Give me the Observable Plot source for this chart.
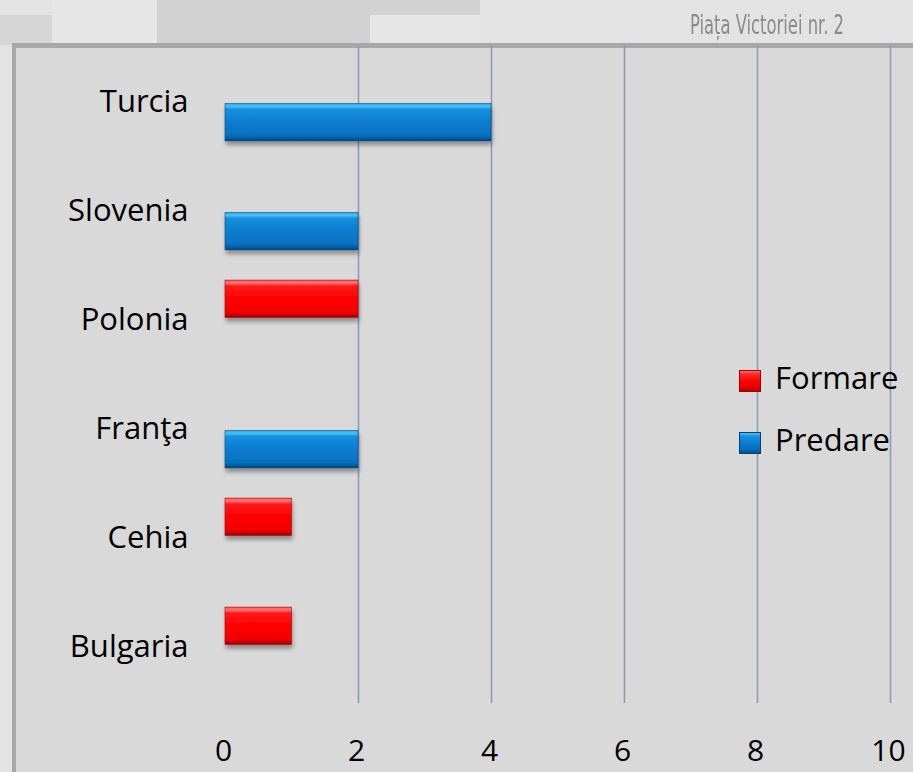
<!DOCTYPE html>
<html>
<head>
<meta charset="utf-8">
<script src="https://cdn.jsdelivr.net/npm/d3@7"></script>
<script src="https://cdn.jsdelivr.net/npm/@observablehq/plot@0.6"></script>
<style>
  html, body { margin: 0; padding: 0; background: #e3e3e3; overflow: hidden; }
  #wrap { position: relative; width: 913px; height: 772px; overflow: hidden; font-family: "Open Sans", sans-serif; }
  .blk { position: absolute; }
  #panel { position: absolute; left: 12px; top: 43px; width: 920px; height: 740px; background: #d9d9d9;
           border-top: 5px solid #a8a8a8; border-left: 4px solid #a8a8a8; box-sizing: border-box; }
  #chart { position: absolute; left: 0; top: 0; }
  #addr { position: absolute; left: 690px; top: 8px; font-family: "DejaVu Sans Condensed", "DejaVu Sans", sans-serif;
          font-size: 26px; line-height: 34px; color: #8a8a8a; white-space: nowrap; transform-origin: 0 0; }
  .lg-sw { position: absolute; width: 22px; height: 22px; box-sizing: border-box; }
  .lg-tx { position: absolute; font-size: 31px; line-height: 1; color: #000; }
</style>
</head>
<body>
<div id="wrap">
  <div class="blk" style="left:0;top:15px;width:52px;height:30px;background:#d6d6d6"></div>
  <div class="blk" style="left:52px;top:0;width:105px;height:45px;background:#e6e6e6"></div>
  <div class="blk" style="left:157px;top:0;width:213px;height:45px;background:#d2d2d2"></div>
  <div class="blk" style="left:370px;top:0;width:110px;height:15px;background:#d2d2d2"></div>
  <div class="blk" style="left:370px;top:15px;width:110px;height:30px;background:#e6e6e6"></div>
  <div id="panel"></div>
  <div id="addr">Piața Victoriei nr. 2</div>
  <div id="chart"></div>
  <div class="lg-sw" id="sw1" style="left:739px;top:370px"></div>
  <div class="lg-tx" style="left:775px;top:362px">Formare</div>
  <div class="lg-sw" id="sw2" style="left:739px;top:432px"></div>
  <div class="lg-tx" style="left:775px;top:424px">Predare</div>
</div>
<script>
// ---- data ----
const countries = ["Turcia", "Slovenia", "Polonia", "Franţa", "Cehia", "Bulgaria"];
const formare   = [0, 0, 2, 0, 1, 1];
const predare   = [4, 2, 0, 2, 0, 0];
const xTicks    = [0, 2, 4, 6, 8, 10];
const gridTicks = [2, 4, 6, 8, 10];
const seriesNames = ["Formare", "Predare"];

const rowsF = countries.map((c, i) => ({country: c, value: formare[i]})).filter(d => d.value > 0);
const rowsP = countries.map((c, i) => ({country: c, value: predare[i]})).filter(d => d.value > 0);

// fit the condensed address text to its width in the reference
const addr = document.getElementById("addr");
addr.style.transform = `scaleX(${154 / addr.getBoundingClientRect().width})`;

const redGrad = "linear-gradient(to bottom,#ff6a6a 0%,#ff2a2a 15%,#ff0000 50%,#f00000 80%,#b00000 100%)";
const blueGrad = "linear-gradient(to bottom,#4cc3fb 0%,#1a92e0 15%,#0b7ccf 50%,#0670c0 80%,#044f8a 100%)";
document.getElementById("sw1").style.background = redGrad;
document.getElementById("sw1").style.border = "1px solid #a00000";
document.getElementById("sw2").style.background = blueGrad;
document.getElementById("sw2").style.border = "1px solid #044070";

const band = (772 - 45 - 69) / 6;
const barH = 38;
const inset = (band - barH) / 2;
const off = 20.75;

const chart = Plot.plot({
  width: 913,
  height: 772,
  marginLeft: 225,
  marginRight: 23,
  marginTop: 45,
  marginBottom: 69,
  style: {background: "transparent", fontFamily: "Open Sans, sans-serif", fontSize: "31px", color: "#000", overflow: "visible"},
  x: {domain: [0, 10]},
  y: {domain: countries, padding: 0},
  marks: [
    Plot.ruleX(gridTicks, {stroke: "#8a9bb8", strokeWidth: 1.6}),
    Plot.axisX({ticks: xTicks, tickSize: 0, tickPadding: 36, label: null, fontSize: 30, dx: -2}),
    Plot.axisY({tickSize: 0, tickPadding: 37, label: null, fontSize: 31}),
    Plot.barX(rowsF, {x: "value", y: "country", insetTop: inset, insetBottom: inset, dy: -off, fill: "url(#gRed)", stroke: "#b00000", strokeWidth: 0.6}),
    Plot.barX(rowsP, {x: "value", y: "country", insetTop: inset, insetBottom: inset, dy: off, fill: "url(#gBlue)", stroke: "#044f8a", strokeWidth: 0.6})
  ]
});

const ns = "http://www.w3.org/2000/svg";
const defs = document.createElementNS(ns, "defs");
defs.innerHTML = `
  <linearGradient id="gRed" x1="0" y1="0" x2="0" y2="1">
    <stop offset="0" stop-color="#ff5050"/>
    <stop offset="0.07" stop-color="#ff7a7a"/>
    <stop offset="0.16" stop-color="#ff1a1a"/>
    <stop offset="0.5" stop-color="#ff0000"/>
    <stop offset="0.86" stop-color="#f20000"/>
    <stop offset="0.94" stop-color="#c40000"/>
    <stop offset="1" stop-color="#8e0000"/>
  </linearGradient>
  <linearGradient id="gBlue" x1="0" y1="0" x2="0" y2="1">
    <stop offset="0" stop-color="#2aa6ee"/>
    <stop offset="0.07" stop-color="#4cc2fa"/>
    <stop offset="0.16" stop-color="#168fdd"/>
    <stop offset="0.5" stop-color="#0b7ccf"/>
    <stop offset="0.86" stop-color="#0670c0"/>
    <stop offset="0.94" stop-color="#04599a"/>
    <stop offset="1" stop-color="#033f70"/>
  </linearGradient>
  <filter id="shadow" x="-10%" y="-30%" width="120%" height="180%">
    <feDropShadow dx="1" dy="4" stdDeviation="2" flood-color="#000" flood-opacity="0.35"/>
  </filter>`;
chart.insertBefore(defs, chart.firstChild);
chart.querySelectorAll('g[aria-label="bar"]').forEach(g => g.setAttribute("filter", "url(#shadow)"));

document.getElementById("chart").appendChild(chart);
</script>
</body>
</html>
